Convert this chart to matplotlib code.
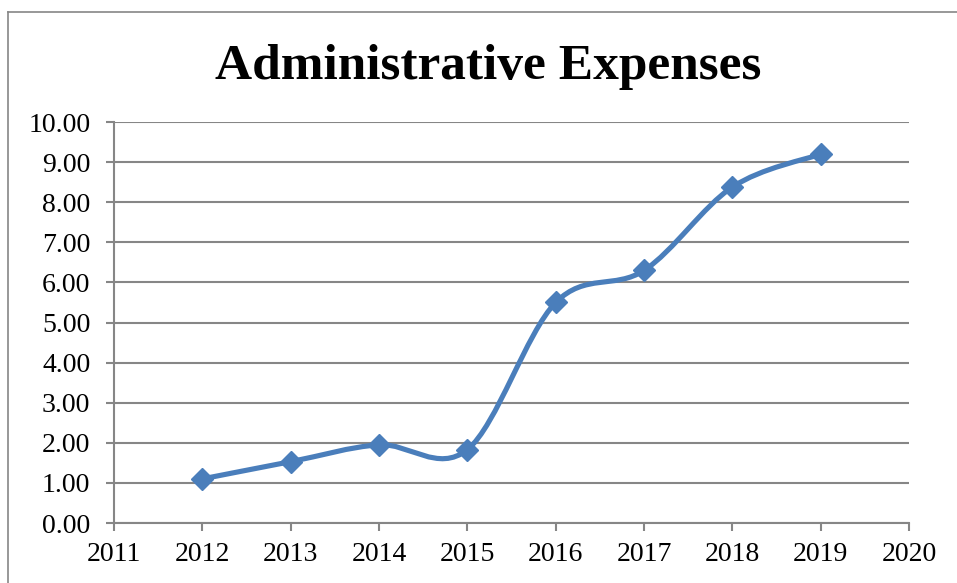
import matplotlib
matplotlib.use("Agg")
import matplotlib.pyplot as plt
from matplotlib.path import Path
from matplotlib.patches import PathPatch
from matplotlib.lines import Line2D

years = [2012, 2013, 2014, 2015, 2016, 2017, 2018, 2019]
expenses = [1.10, 1.53, 1.95, 1.83, 5.50, 6.30, 8.38, 9.20]
x_ticks = list(range(2011, 2021))
y_ticks = [i for i in range(0, 11)]

blue = "#4A7EBB"
grey = "#868686"
plt.rcParams["font.family"] = ["Liberation Serif", "DejaVu Serif"]

fig = plt.figure(figsize=(9.57, 5.83), dpi=100)
ax = fig.add_axes([0.1191, 0.1029, 0.8309, 0.6878])

# smoothed line like excel (catmull-rom style bezier)
verts = [(years[0], expenses[0])]
codes = [Path.MOVETO]
n = len(years)
for i in range(n - 1):
    x0, y0 = years[max(i - 1, 0)], expenses[max(i - 1, 0)]
    x1, y1 = years[i], expenses[i]
    x2, y2 = years[i + 1], expenses[i + 1]
    x3, y3 = years[min(i + 2, n - 1)], expenses[min(i + 2, n - 1)]
    verts += [(x1 + (x2 - x0) / 6, y1 + (y2 - y0) / 6),
              (x2 - (x3 - x1) / 6, y2 - (y3 - y1) / 6),
              (x2, y2)]
    codes += [Path.CURVE4] * 3
ax.add_patch(PathPatch(Path(verts, codes), fill=False, edgecolor=blue,
                       lw=3.7, capstyle="round", zorder=3))
ax.plot(years, expenses, linestyle="none", marker="D", markersize=11,
        color=blue, zorder=4)

ax.set_xlim(2011, 2020)
ax.set_ylim(0, 10)
ax.set_xticks(x_ticks)
ax.set_yticks(y_ticks)
ax.set_yticklabels([f"{v:.2f}" for v in y_ticks])
ax.grid(axis="y", color=grey, lw=1.5)
ax.set_axisbelow(True)
for s in ["top", "right"]:
    ax.spines[s].set_visible(False)
for s in ["left", "bottom"]:
    ax.spines[s].set_color(grey)
    ax.spines[s].set_linewidth(1.5)
ax.tick_params(axis="both", colors=grey, width=1.5, length=6,
               labelsize=20, labelcolor="black")
ax.tick_params(axis="y", pad=11)
ax.tick_params(axis="x", pad=8)

fig.text(0.51, 0.885, "Administrative Expenses", ha="center", va="center",
         fontsize=37, fontweight="bold")

# outer chart border
fig.add_artist(Line2D([8 / 957, 8 / 957], [0, 1 - 12 / 583], color=grey, lw=1.2))
fig.add_artist(Line2D([8 / 957, 1], [1 - 12 / 583, 1 - 12 / 583], color=grey, lw=1.2))

fig.savefig("out.png", dpi=100)
